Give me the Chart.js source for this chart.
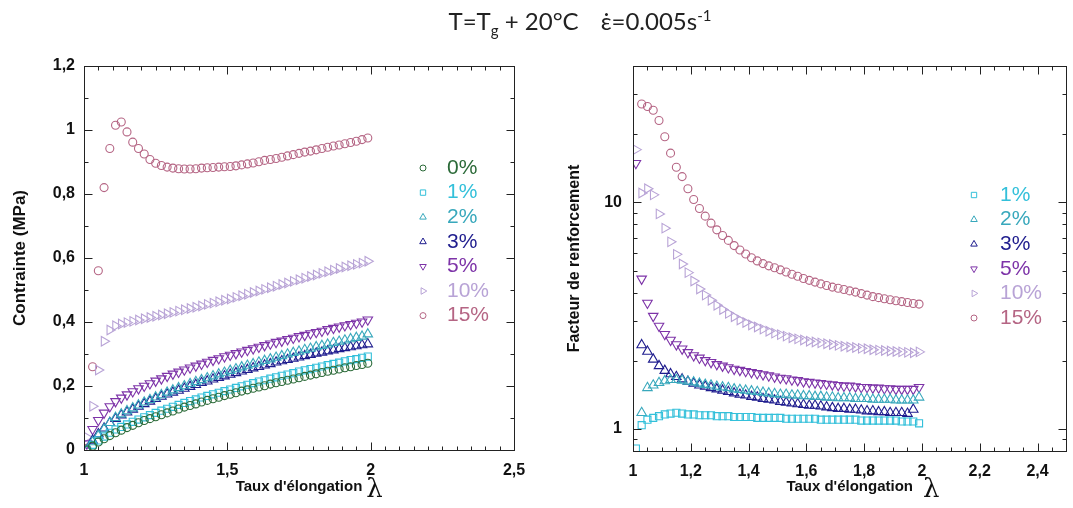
<!DOCTYPE html>
<html>
<head>
<meta charset="utf-8">
<script src="https://cdn.jsdelivr.net/npm/chart.js@4.4.0/dist/chart.umd.min.js"></script>
<style>
  html, body { margin: 0; padding: 0; background: #fff; overflow: hidden; }
  body { width: 1073px; height: 508px; position: relative; }
  canvas { position: absolute; top: 0; }
  #stressChart { left: 0; }
  #renfChart { left: 540px; }
  #title {
    position: absolute; left: 380px; width: 400px; top: 6px; z-index: 2;
    text-align: center; white-space: nowrap; color: #222;
    font-family: Lato, "Open Sans", sans-serif; font-size: 24px;
  }
  #title sub, #title sup { font-size: 15px; }
  #title .gap { display: inline-block; width: 22px; }
</style>
</head>
<body>
<div id="title">T=T<sub>g</sub> + 20°C<span class="gap"></span>ε̇=0.005s<sup>-1</sup></div>
<canvas id="stressChart" width="540" height="508"></canvas>
<canvas id="renfChart" width="533" height="508"></canvas>
<script>
// taux d'elongation (shared by every series)
const lambda = [
    1.01, 1.03, 1.05, 1.07, 1.09, 1.11, 1.13, 1.15, 1.17, 1.19,
    1.21, 1.23, 1.25, 1.27, 1.29, 1.31, 1.33, 1.35, 1.37, 1.39,
    1.41, 1.43, 1.45, 1.47, 1.49, 1.51, 1.53, 1.55, 1.57, 1.59,
    1.61, 1.63, 1.65, 1.67, 1.69, 1.71, 1.73, 1.75, 1.77, 1.79,
    1.81, 1.83, 1.85, 1.87, 1.89, 1.91, 1.93, 1.95, 1.97, 1.99
];

// contrainte (MPa)
const stress0 = [
    0.000, 0.012, 0.025, 0.035, 0.045, 0.054, 0.062, 0.070, 0.077, 0.085,
    0.092, 0.098, 0.104, 0.110, 0.116, 0.122, 0.128, 0.134, 0.139, 0.144,
    0.150, 0.155, 0.160, 0.165, 0.170, 0.174, 0.179, 0.184, 0.188, 0.193,
    0.197, 0.201, 0.206, 0.210, 0.214, 0.218, 0.222, 0.226, 0.230, 0.234,
    0.238, 0.242, 0.246, 0.249, 0.253, 0.257, 0.260, 0.264, 0.267, 0.271
];
const stress1 = [
    0.000, 0.016, 0.030, 0.042, 0.054, 0.064, 0.072, 0.080, 0.088, 0.095,
    0.102, 0.109, 0.116, 0.123, 0.129, 0.135, 0.141, 0.147, 0.153, 0.158,
    0.164, 0.169, 0.174, 0.179, 0.184, 0.189, 0.194, 0.199, 0.204, 0.209,
    0.214, 0.218, 0.223, 0.227, 0.232, 0.236, 0.240, 0.245, 0.249, 0.253,
    0.257, 0.261, 0.265, 0.269, 0.273, 0.277, 0.281, 0.284, 0.288, 0.292
];
const stress2 = [
    0.000, 0.025, 0.045, 0.065, 0.085, 0.101, 0.112, 0.122, 0.131, 0.140,
    0.149, 0.157, 0.165, 0.172, 0.180, 0.187, 0.194, 0.200, 0.207, 0.213,
    0.219, 0.225, 0.231, 0.237, 0.242, 0.248, 0.253, 0.259, 0.264, 0.269,
    0.274, 0.279, 0.284, 0.289, 0.294, 0.299, 0.304, 0.308, 0.313, 0.317,
    0.322, 0.326, 0.330, 0.335, 0.339, 0.343, 0.347, 0.351, 0.355, 0.362
];
const stress3 = [
    0.000, 0.030, 0.050, 0.068, 0.085, 0.098, 0.109, 0.118, 0.127, 0.136,
    0.144, 0.152, 0.160, 0.167, 0.174, 0.180, 0.186, 0.192, 0.198, 0.204,
    0.210, 0.215, 0.221, 0.226, 0.231, 0.236, 0.241, 0.246, 0.251, 0.256,
    0.260, 0.265, 0.269, 0.274, 0.278, 0.282, 0.286, 0.290, 0.294, 0.298,
    0.302, 0.305, 0.309, 0.312, 0.316, 0.319, 0.322, 0.325, 0.328, 0.331
];
const stress5 = [
    0.020, 0.065, 0.093, 0.116, 0.136, 0.152, 0.163, 0.173, 0.183, 0.192,
    0.200, 0.208, 0.216, 0.223, 0.231, 0.238, 0.244, 0.251, 0.257, 0.263,
    0.269, 0.275, 0.281, 0.286, 0.292, 0.297, 0.302, 0.307, 0.312, 0.317,
    0.322, 0.327, 0.332, 0.337, 0.341, 0.346, 0.350, 0.355, 0.359, 0.364,
    0.368, 0.372, 0.377, 0.381, 0.385, 0.389, 0.393, 0.397, 0.401, 0.407
];
const stress10 = [
    0.040, 0.137, 0.250, 0.340, 0.375, 0.388, 0.394, 0.398, 0.402, 0.406,
    0.410, 0.414, 0.418, 0.422, 0.426, 0.430, 0.434, 0.438, 0.442, 0.446,
    0.450, 0.455, 0.459, 0.463, 0.468, 0.472, 0.477, 0.482, 0.487, 0.492,
    0.497, 0.502, 0.507, 0.512, 0.517, 0.522, 0.527, 0.532, 0.537, 0.542,
    0.547, 0.552, 0.557, 0.562, 0.567, 0.572, 0.576, 0.580, 0.584, 0.590
];
const stress15 = [
    0.005, 0.260, 0.560, 0.820, 0.942, 1.015, 1.025, 0.994, 0.962, 0.942,
    0.925, 0.908, 0.896, 0.889, 0.884, 0.881, 0.879, 0.878, 0.878, 0.879,
    0.881, 0.882, 0.883, 0.884, 0.885, 0.886, 0.888, 0.891, 0.894, 0.897,
    0.901, 0.905, 0.908, 0.911, 0.915, 0.919, 0.923, 0.927, 0.931, 0.934,
    0.938, 0.942, 0.946, 0.950, 0.953, 0.957, 0.961, 0.965, 0.970, 0.975
];

// facteur de renforcement
const renf1 = [
    0.82, 1.04, 1.10, 1.12, 1.14, 1.16, 1.17, 1.18, 1.17, 1.16,
    1.16, 1.15, 1.15, 1.15, 1.14, 1.14, 1.14, 1.13, 1.13, 1.13,
    1.13, 1.12, 1.12, 1.12, 1.12, 1.12, 1.11, 1.11, 1.11, 1.11,
    1.11, 1.11, 1.10, 1.10, 1.10, 1.10, 1.10, 1.10, 1.10, 1.09,
    1.09, 1.09, 1.09, 1.09, 1.09, 1.09, 1.08, 1.08, 1.08, 1.06
];
const renf2 = [
    null, 1.18, 1.52, 1.56, 1.60, 1.63, 1.65, 1.65, 1.64, 1.62,
    1.61, 1.59, 1.57, 1.56, 1.54, 1.53, 1.52, 1.50, 1.49, 1.48,
    1.47, 1.46, 1.45, 1.44, 1.43, 1.42, 1.42, 1.41, 1.41, 1.40,
    1.40, 1.39, 1.39, 1.38, 1.38, 1.37, 1.37, 1.37, 1.36, 1.36,
    1.36, 1.35, 1.35, 1.35, 1.35, 1.34, 1.34, 1.34, 1.34, 1.38
];
const renf3 = [
    null, 2.35, 2.20, 2.03, 1.90, 1.81, 1.75, 1.70, 1.66, 1.62,
    1.59, 1.56, 1.54, 1.52, 1.50, 1.48, 1.46, 1.44, 1.42, 1.41,
    1.39, 1.38, 1.36, 1.35, 1.34, 1.32, 1.31, 1.30, 1.29, 1.28,
    1.27, 1.27, 1.26, 1.25, 1.24, 1.23, 1.23, 1.22, 1.22, 1.21,
    1.20, 1.20, 1.19, 1.19, 1.18, 1.18, 1.18, 1.17, 1.22, null
];
const renf5 = [
    14.9, 4.60, 3.60, 3.15, 2.85, 2.62, 2.47, 2.36, 2.26, 2.18,
    2.11, 2.06, 2.01, 1.97, 1.93, 1.90, 1.87, 1.84, 1.82, 1.80,
    1.78, 1.76, 1.74, 1.72, 1.70, 1.68, 1.67, 1.65, 1.64, 1.62,
    1.61, 1.60, 1.59, 1.58, 1.57, 1.56, 1.55, 1.55, 1.54, 1.53,
    1.53, 1.52, 1.52, 1.51, 1.51, 1.50, 1.50, 1.50, 1.50, 1.53
];
const renf10 = [
    17.1, 11.0, 11.5, 10.8, 8.90, 7.70, 6.70, 5.90, 5.35, 4.90,
    4.50, 4.15, 3.90, 3.70, 3.52, 3.37, 3.24, 3.13, 3.03, 2.95,
    2.88, 2.82, 2.76, 2.70, 2.65, 2.61, 2.57, 2.53, 2.50, 2.47,
    2.44, 2.42, 2.40, 2.38, 2.36, 2.34, 2.32, 2.30, 2.29, 2.27,
    2.26, 2.24, 2.23, 2.22, 2.21, 2.20, 2.19, 2.18, 2.17, 2.19
];
const renf15 = [
    null, 27.2, 26.5, 25.5, 23.0, 19.5, 16.5, 14.3, 13.0, 11.5,
    10.3, 9.40, 8.70, 8.10, 7.57, 7.15, 6.80, 6.45, 6.17, 5.92,
    5.70, 5.52, 5.37, 5.25, 5.15, 5.04, 4.93, 4.82, 4.72, 4.62,
    4.53, 4.45, 4.37, 4.30, 4.23, 4.18, 4.13, 4.07, 4.02, 3.96,
    3.90, 3.84, 3.80, 3.76, 3.72, 3.68, 3.65, 3.62, 3.58, 3.56
];

const FONT = '"Liberation Sans", Arial, sans-serif';
const INK = '#111';

// marker look for each charge rate
const styles = {
    '0%':  {color: '#2b6a38', pointStyle: 'circle',   rot: 0,   r: 4},
    '1%':  {color: '#33c0da', pointStyle: 'rect',     rot: 0,   r: 5},
    '2%':  {color: '#38a8bc', pointStyle: 'triangle', rot: 0,   r: 5.5},
    '3%':  {color: '#1f1d8e', pointStyle: 'triangle', rot: 0,   r: 5.5},
    '5%':  {color: '#7d33a8', pointStyle: 'triangle', rot: 180, r: 5.5},
    '10%': {color: '#b8a3d6', pointStyle: 'triangle', rot: 90,  r: 5.5},
    '15%': {color: '#b56584', pointStyle: 'circle',   rot: 0,   r: 4}
};

const fmt = v => String(Math.round(v * 100) / 100).replace('.', ',');

function makeDataset(label, values) {
    const s = styles[label];
    return {
        label,
        data: lambda.map((x, i) => ({x, y: values[i]})).filter(p => p.y !== null),
        borderColor: s.color,
        backgroundColor: 'rgba(0,0,0,0)',
        pointStyle: s.pointStyle,
        pointRotation: s.rot,
        pointRadius: s.r,
        pointHoverRadius: s.r,
        pointBorderWidth: 1.1,
        showLine: false
    };
}

// box with inward ticks on all four sides
const frameTicks = {
    id: 'frameTicks',
    afterDatasetsDraw(chart, args, opts) {
        const {ctx, chartArea: a, scales: {x, y}} = chart;
        ctx.save();
        ctx.strokeStyle = '#222';
        ctx.lineWidth = 1;
        const L = Math.round(a.left) + 0.5, R = Math.round(a.right) + 0.5;
        const T = Math.round(a.top) + 0.5, B = Math.round(a.bottom) + 0.5;
        ctx.strokeRect(L, T, R - L, B - T);
        ctx.beginPath();
        const xTick = (v, len) => {
            const p = Math.round(x.getPixelForValue(v)) + 0.5;
            ctx.moveTo(p, B); ctx.lineTo(p, B - len);
            ctx.moveTo(p, T); ctx.lineTo(p, T + len);
        };
        const yTick = (v, len) => {
            const p = Math.round(y.getPixelForValue(v)) + 0.5;
            ctx.moveTo(L, p); ctx.lineTo(L + len, p);
            ctx.moveTo(R, p); ctx.lineTo(R - len, p);
        };
        for (let v = x.min; v <= x.max + 1e-9; v += opts.xMinor) xTick(v, 4);
        if (opts.yMinorList) {
            opts.yMinorList.forEach(v => yTick(v, 4));
        } else {
            for (let v = y.min; v <= y.max + 1e-9; v += opts.yMinor) yTick(v, 4);
        }
        x.ticks.forEach(t => xTick(t.value, 8));
        y.ticks.forEach(t => yTick(t.value, 8));
        ctx.stroke();

        // lambda after the x title
        const title = x.options.title;
        ctx.font = `bold ${title.font.size}px ${FONT}`;
        const w = ctx.measureText(title.text).width;
        ctx.font = '26px "DejaVu Serif", "Liberation Serif", serif';
        ctx.fillStyle = INK;
        ctx.textBaseline = 'middle';
        ctx.fillText('λ', (a.left + a.right) / 2 + w / 2 + opts.lambdaGap, opts.lambdaY);
        ctx.restore();
    }
};

// legend drawn inside the plot area
const inLegend = {
    id: 'inLegend',
    afterDraw(chart, args, opts) {
        const ctx = chart.ctx;
        ctx.save();
        ctx.font = `21px ${FONT}`;
        ctx.textBaseline = 'middle';
        chart.data.datasets.forEach((ds, i) => {
            const yy = opts.y + i * opts.dy;
            ctx.strokeStyle = ds.borderColor;
            ctx.fillStyle = 'rgba(0,0,0,0)';
            ctx.lineWidth = 1;
            Chart.helpers.drawPoint(ctx, {
                pointStyle: ds.pointStyle, rotation: ds.pointRotation,
                radius: ds.pointStyle === 'circle' ? 3 : 3.8, borderWidth: 1
            }, opts.markerX, yy);
            ctx.fillStyle = ds.borderColor;
            ctx.fillText(ds.label, opts.textX, yy);
        });
        ctx.restore();
    }
};

const tickFont = {family: FONT, size: 16, weight: 'bold'};

function xAxis(min, max, step, h) {
    return {
        type: 'linear', min, max,
        afterFit: s => { s.height = h; },
        afterBuildTicks: s => {
            const ticks = [];
            for (let i = 0; min + i * step <= max + 1e-9; i++) ticks.push({value: min + i * step});
            s.ticks = ticks;
        },
        ticks: {stepSize: step, padding: 11, color: INK, font: tickFont, callback: fmt, maxRotation: 0, autoSkip: false},
        grid: {display: false, drawTicks: false},
        border: {display: false},
        title: {display: true, text: "Taux d'élongation", color: INK,
                font: {family: FONT, size: 15, weight: 'bold'}, padding: {top: 0, bottom: 12}}
    };
}

new Chart(document.getElementById('stressChart'), {
    type: 'scatter',
    data: {
        datasets: [
            makeDataset('0%', stress0),
            makeDataset('1%', stress1),
            makeDataset('2%', stress2),
            makeDataset('3%', stress3),
            makeDataset('5%', stress5),
            makeDataset('10%', stress10),
            makeDataset('15%', stress15)
        ]
    },
    options: {
        responsive: false,
        animation: false,
        layout: {padding: {top: 66, right: 26, left: 0, bottom: 0}},
        plugins: {
            legend: {display: false},
            tooltip: {enabled: false},
            inLegend: {markerX: 423, textX: 447, y: 168, dy: 24.6},
            frameTicks: {xMinor: 0.05, yMinor: 0.1, lambdaGap: 4, lambdaY: 490}
        },
        scales: {
            x: xAxis(1, 2.5, 0.5, 58),
            y: {
                type: 'linear', min: 0, max: 1.2,
                afterFit: s => { s.width = 84; },
                ticks: {stepSize: 0.2, padding: 9, color: INK, font: tickFont, callback: fmt},
                grid: {display: false, drawTicks: false},
                border: {display: false},
                title: {display: true, text: 'Contrainte (MPa)', color: INK,
                        font: {family: FONT, size: 17, weight: 'bold'}, padding: {top: 10, bottom: 0}}
            }
        }
    },
    plugins: [frameTicks, inLegend]
});

new Chart(document.getElementById('renfChart'), {
    type: 'scatter',
    data: {
        datasets: [
            makeDataset('1%', renf1),
            makeDataset('2%', renf2),
            makeDataset('3%', renf3),
            makeDataset('5%', renf5),
            makeDataset('10%', renf10),
            makeDataset('15%', renf15)
        ]
    },
    options: {
        responsive: false,
        animation: false,
        layout: {padding: {top: 66, right: 5, left: 0, bottom: 0}},
        plugins: {
            legend: {display: false},
            tooltip: {enabled: false},
            inLegend: {markerX: 434, textX: 460, y: 195, dy: 24.6},
            frameTicks: {xMinor: 0.05, yMinorList: [0.9, 2, 3, 4, 5, 6, 7, 8, 9, 20, 30],
                         lambdaGap: 10, lambdaY: 490}
        },
        scales: {
            x: xAxis(1, 2.5, 0.2, 57),
            y: {
                type: 'logarithmic', min: 0.8, max: 40,
                afterFit: s => { s.width = 93; },
                afterBuildTicks: s => { s.ticks = [{value: 1}, {value: 10}]; },
                ticks: {padding: 11, color: INK, font: tickFont, callback: fmt},
                grid: {display: false, drawTicks: false},
                border: {display: false},
                title: {display: true, text: 'Facteur de renforcement', color: INK,
                        font: {family: FONT, size: 16, weight: 'bold'}, padding: {top: 25, bottom: 0}}
            }
        }
    },
    plugins: [frameTicks, inLegend]
});
</script>
</body>
</html>
